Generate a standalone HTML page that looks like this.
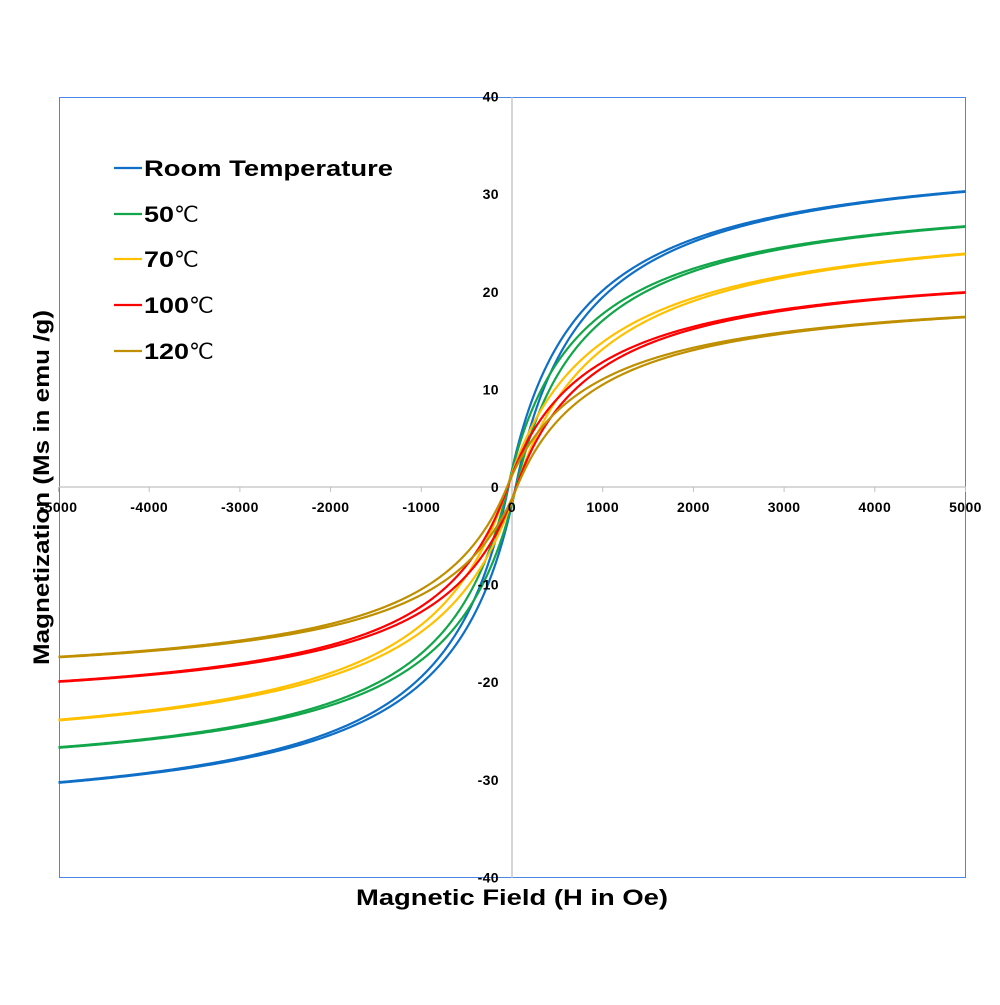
<!DOCTYPE html>
<html><head><meta charset="utf-8"><style>
html,body{margin:0;padding:0;background:#fff}
svg text{font-family:"Liberation Sans",Arial,sans-serif;font-weight:bold}
</style></head><body>
<svg id="s" width="1000" height="1000" viewBox="0 0 1000 1000" xmlns="http://www.w3.org/2000/svg">
<rect x="0" y="0" width="1000" height="1000" fill="#fff"/>
<rect x="59.5" y="97.5" width="906" height="780" fill="none" stroke="#4a86e8" stroke-width="1"/>
<line x1="512" y1="97" x2="512" y2="878" stroke="#c0c0c0" stroke-width="1.3"/>
<line x1="59" y1="487" x2="966" y2="487" stroke="#c0c0c0" stroke-width="1.3"/>
<g id="ticks" stroke="#c0c0c0" stroke-width="1"></g>
<g id="curves" fill="none" stroke-width="2.2"></g>
<g font-size="14" letter-spacing="0.4" text-anchor="end" id="ylab"></g>
<g font-size="14" letter-spacing="0.4" text-anchor="middle" id="xlab"></g>
<text x="356" y="905" font-size="22" textLength="312" lengthAdjust="spacingAndGlyphs">Magnetic Field (H in Oe)</text>
<text transform="translate(49,665) rotate(-90)" font-size="22" textLength="355" lengthAdjust="spacingAndGlyphs">Magnetization (Ms in emu /g)</text>
<g stroke-width="2.2">
<line x1="114" y1="168" x2="142" y2="168" stroke="#0f6fc6"/>
<line x1="114" y1="214" x2="142" y2="214" stroke="#12a64a"/>
<line x1="114" y1="259" x2="142" y2="259" stroke="#ffc000"/>
<line x1="114" y1="305" x2="142" y2="305" stroke="#ff0000"/>
<line x1="114" y1="351" x2="142" y2="351" stroke="#bf8f00"/>
</g>
<g font-size="22">
<text x="144" y="176" textLength="249" lengthAdjust="spacingAndGlyphs">Room Temperature</text>
<text x="144" y="222"><tspan textLength="30" lengthAdjust="spacingAndGlyphs">50</tspan><tspan font-weight="normal">℃</tspan></text>
<text x="144" y="267"><tspan textLength="30" lengthAdjust="spacingAndGlyphs">70</tspan><tspan font-weight="normal">℃</tspan></text>
<text x="144" y="313"><tspan textLength="45" lengthAdjust="spacingAndGlyphs">100</tspan><tspan font-weight="normal">℃</tspan></text>
<text x="144" y="359"><tspan textLength="45" lengthAdjust="spacingAndGlyphs">120</tspan><tspan font-weight="normal">℃</tspan></text>
</g>
</svg>
<script>
var NS="http://www.w3.org/2000/svg";
function el(p,t,a,txt){var e=document.createElementNS(NS,t);for(var k in a)e.setAttribute(k,a[k]);if(txt!==undefined)e.textContent=txt;document.getElementById(p).appendChild(e);}
function X(h){return 512+h*0.0907;}
function Y(m){return 487-m*9.76;}
for(var v=-40;v<=40;v+=10){el("ylab","text",{x:499,y:Y(v)+5},String(v));}
for(var h=-5000;h<=5000;h+=1000){el("xlab","text",{x:X(h),y:512},String(h));el("ticks","line",{x1:X(h),y1:487,x2:X(h),y2:492});}
var S=[["#0f6fc6",34.9,763,40],["#12a64a",30.8,770,45],["#ffc000",28.5,967,50],["#ff0000",23.4,869,48],["#bf8f00",20.6,912,55]];
S.forEach(function(s){
 function M(h){var a=Math.abs(h);return (h<0?-1:1)*s[1]*a/(a+s[2]);}
 [1,-1].forEach(function(sg){
  var d="";
  for(var i=0;i<=800;i++){
   var t=i/800*2-1;var h=5000*Math.sign(t)*Math.pow(Math.abs(t),2);
   var m=M(h+sg*s[3]);
   d+=(i?"L":"M")+X(h).toFixed(2)+","+Y(m).toFixed(2);
  }
  el("curves","path",{d:d,stroke:s[0]});
 });
});
</script>
</body></html>
